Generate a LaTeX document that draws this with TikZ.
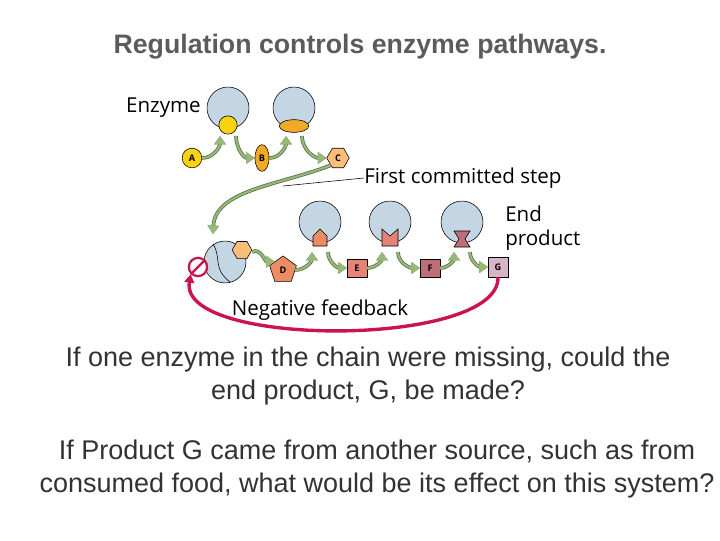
\documentclass[tikz,border=0pt]{standalone}
\usepackage{fontspec}
\setmainfont{Liberation Sans}
\newfontfamily\labfont{Open Sans}
\usetikzlibrary{shapes.geometric,arrows.meta}
\definecolor{enzfill}{RGB}{196,214,228}
\definecolor{subyel}{RGB}{250,210,20}
\definecolor{subora}{RGB}{240,170,40}
\definecolor{subpeach}{RGB}{250,190,120}
\definecolor{subsal}{RGB}{235,140,100}
\definecolor{subpink}{RGB}{230,130,120}
\definecolor{submauve}{RGB}{190,110,120}
\definecolor{subg}{RGB}{215,180,200}
\definecolor{arrgreen}{RGB}{150,185,120}
\definecolor{fbred}{RGB}{200,20,80}
\definecolor{qtext}{RGB}{50,50,50}
\tikzset{
  enzyme/.style={circle,draw,fill=enzfill,minimum size=42pt*0.71,inner sep=0pt},
  sub/.style={draw,inner sep=0pt,font=\labfont\fontsize{6.5}{7}\selectfont\bfseries},
  garrow/.style={draw=arrgreen!60!black,line width=2.6pt,-{Triangle[length=6pt,width=8pt]},
    postaction={draw=arrgreen,line width=1.5pt}},
  lab/.style={font=\labfont\fontsize{14.6}{17}\selectfont,inner sep=0pt},
  question/.style={font=\fontsize{19.2}{23.5}\selectfont,text=qtext,align=center,inner sep=0pt}
}
\begin{document}
\begin{tikzpicture}[x=0.025cm,y=-0.025cm]
  \useasboundingbox (0,0) rectangle (720,540);
  % Title
  \node[font=\bfseries\fontsize{19}{22}\selectfont,text=qtext!80] (title) at (360,47) {Regulation controls enzyme pathways.};
  % Top enzymes
  \node[lab,anchor=east] (enzlab) at (201,108) {Enzyme};
  \node[enzyme] (e1) at (228,108) {};
  \node[enzyme] (e2) at (294,108) {};
  \node[circle,draw,fill=subyel,minimum size=13pt,inner sep=0pt] (e1s) at (228,125) {};
  \node[ellipse,draw,fill=subora,minimum width=21pt,minimum height=9pt,inner sep=0pt] (e2s) at (294,126) {};
  % Substrates A B C
  \node[sub,circle,fill=subyel,minimum size=14pt] (A) at (192,158) {A};
  \node[sub,ellipse,fill=subora,minimum width=10pt,minimum height=19pt] (B) at (262,158) {B};
  \node[sub,regular polygon,regular polygon sides=6,fill=subpeach,minimum size=16pt] (C) at (338,158) {C};
  \draw[garrow] (A.east) to[out=0,in=-90] (220,136);
  \draw[garrow] (236,136) to[out=-90,in=180] (B.west);
  \draw[garrow] (B.east) to[out=0,in=-90] (286,136);
  \draw[garrow] (302,136) to[out=-90,in=180] (C.west);
  % First committed step
  \draw[garrow] (C.south west) .. controls (280,185) and (215,190) .. (213,234);
  \node[lab,anchor=west] (fcs) at (364,178) {First committed step};
  \draw[thin] (fcs.west) -- (283,186);
  % Allosteric enzyme
  \node[enzyme] (e3) at (225,262) {};
  \draw (213,244) .. controls (222,258) and (212,268) .. (230,282);
  \node[sub,regular polygon,regular polygon sides=6,fill=subpeach,minimum size=14pt] (Cb) at (242,250) {};
  \node[circle,draw=fbred,line width=1.6pt,minimum size=13pt,inner sep=0pt,fill=white] (inh) at (198,267) {};
  \draw[fbred,line width=1.6pt] (inh.north east) -- (inh.south west);
  % Lower enzymes
  \node[enzyme] (e4) at (320,222) {};
  \node[enzyme] (e5) at (390,222) {};
  \node[enzyme] (e6) at (462,222) {};
  \draw[fill=subsal] (313,246) -- (313,236) -- (320,229) -- (327,236) -- (327,246) -- cycle;
  \draw[fill=subpink] (382,246) -- (382,229) -- (390,236) -- (398,229) -- (398,246) -- cycle;
  \draw[fill=submauve] (454,231) -- (470,231) -- (465,239) -- (470,247) -- (454,247) -- (459,239) -- cycle;
  % Substrates D E F G
  \node[sub,regular polygon,regular polygon sides=5,fill=subsal,minimum size=20pt] (D) at (283,270) {D};
  \node[sub,fill=subpink,minimum width=14pt,minimum height=13pt] (E) at (357,268) {E};
  \node[sub,fill=submauve,minimum width=14pt,minimum height=13pt] (F) at (430,268) {F};
  \node[sub,fill=subg,minimum width=14pt,minimum height=14pt] (G) at (498,267) {G};
  \draw[garrow] (252,252) to[out=30,in=180] (D.north west);
  \draw[garrow] (D.east) to[out=0,in=-90] (312,252);
  \draw[garrow] (328,252) to[out=-90,in=180] (E.west);
  \draw[garrow] (E.east) to[out=0,in=-90] (382,252);
  \draw[garrow] (398,252) to[out=-90,in=180] (F.west);
  \draw[garrow] (F.east) to[out=0,in=-90] (454,252);
  \draw[garrow] (470,252) to[out=-90,in=180] (G.west);
  \node[lab,anchor=west,align=left] (endp) at (505,228) {End\\product};
  % Negative feedback
  \node[lab] (nfb) at (320,310) {Negative feedback};
  \draw[fbred,line width=2.4pt,-{Triangle[length=6pt,width=7pt]}] (G.south) .. controls (500,348) and (178,348) .. (inh.south west);
  % Questions
  \node[question] (q1) at (368,376) {If one enzyme in the chain were missing, could the\\end product, G, be made?};
  \node[question] (q2) at (377,469) {If Product G came from another source, such as from\\consumed food, what would be its effect on this system?};
\end{tikzpicture}
\end{document}
